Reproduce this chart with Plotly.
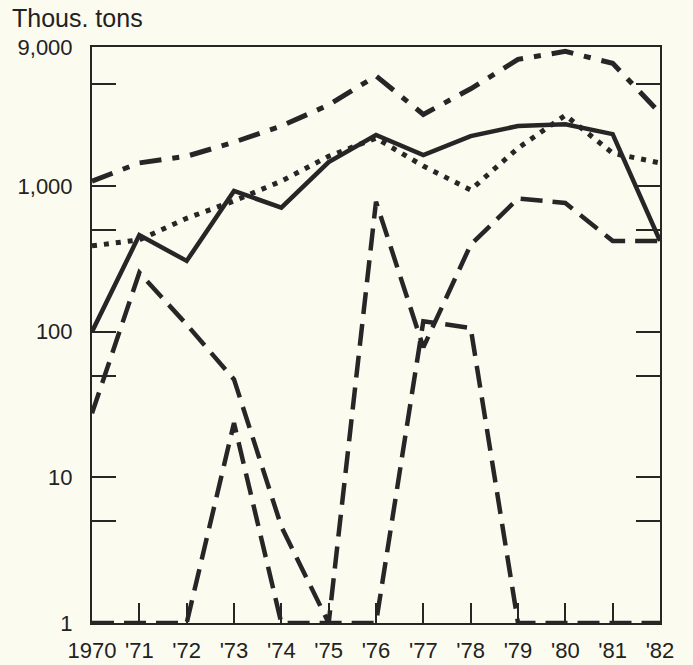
import plotly.graph_objects as go

# Years on the x axis and their printed labels
years = list(range(1970, 1983))
year_labels = ["1970", "'71", "'72", "'73", "'74", "'75", "'76",
               "'77", "'78", "'79", "'80", "'81", "'82"]

# Thousand tons, five series
dashdot_series = [1080, 1440, 1600, 2000, 2580, 3600, 5700, 3100, 4650, 7400, 8400, 6950, 3170]
solid_series = [100, 460, 306, 925, 710, 1460, 2240, 1630, 2200, 2580, 2650, 2270, 420]
dotted_series = [388, 427, 600, 790, 1080, 1600, 2130, 1370, 940, 1820, 3060, 1680, 1440]
dashed_a = [27.5, 254, 112, 47, 4.6, 1, 780, 78, 395, 820, 765, 420, 420]
dashed_b = [1, 1, 1, 23.6, 1, 1, 1, 118, 106, 1, 1, 1, 1]

# Y axis ticks (log scale)
y_tickvals = [1, 5, 10, 50, 100, 500, 1000, 5000, 9000]
y_ticktext = ["1", "", "10", "", "100", "", "1,000", "", "9,000"]

INK = "#262626"
BG = "#fcfbf0"
FONT = "Liberation Sans, Arial, Helvetica, sans-serif"

styles = [
    (dashed_b, "22px,10px", 4.5),
    (dashed_a, "22px,10px", 4.5),
    (dotted_series, "5px,7px", 5),
    (solid_series, "solid", 4.5),
    (dashdot_series, "22px,11px,7px,11px", 5),
]

fig = go.Figure()
for values, dash, width in styles:
    fig.add_trace(go.Scatter(
        x=years, y=values, mode="lines",
        line=dict(color=INK, width=width, dash=dash),
        cliponaxis=False, showlegend=False, hoverinfo="skip",
    ))

fig.update_layout(
    width=693, height=665,
    margin=dict(l=92, r=33, t=47, b=42, autoexpand=False),
    paper_bgcolor=BG, plot_bgcolor=BG,
    font=dict(family=FONT, size=22, color="#222222"),
    showlegend=False,
)

fig.update_xaxes(
    range=[1970, 1982],
    tickvals=years, ticktext=year_labels,
    ticks="inside", ticklen=20, tickwidth=1.5, tickcolor=INK,
    showline=True, linecolor=INK, linewidth=2, mirror=True,
    showgrid=False, zeroline=False, automargin=False,
    ticklabelstandoff=7,
    tickfont=dict(size=22, family=FONT, color="#222222"),
)

fig.update_yaxes(
    type="log", range=[0, 3.9542],
    tickvals=y_tickvals, ticktext=y_ticktext,
    ticks="inside", ticklen=24, tickwidth=1.5, tickcolor=INK,
    showline=True, linecolor=INK, linewidth=2, mirror="ticks",
    showgrid=False, zeroline=False, automargin=False,
    ticklabelstandoff=13,
    tickfont=dict(size=22, family=FONT, color="#222222"),
)

fig.add_annotation(
    text="Thous. tons", xref="paper", yref="paper",
    x=-0.144, y=1.05, xanchor="left", yanchor="middle",
    showarrow=False, font=dict(size=25, family=FONT, color="#222222"),
)

fig.write_html("out.html")
